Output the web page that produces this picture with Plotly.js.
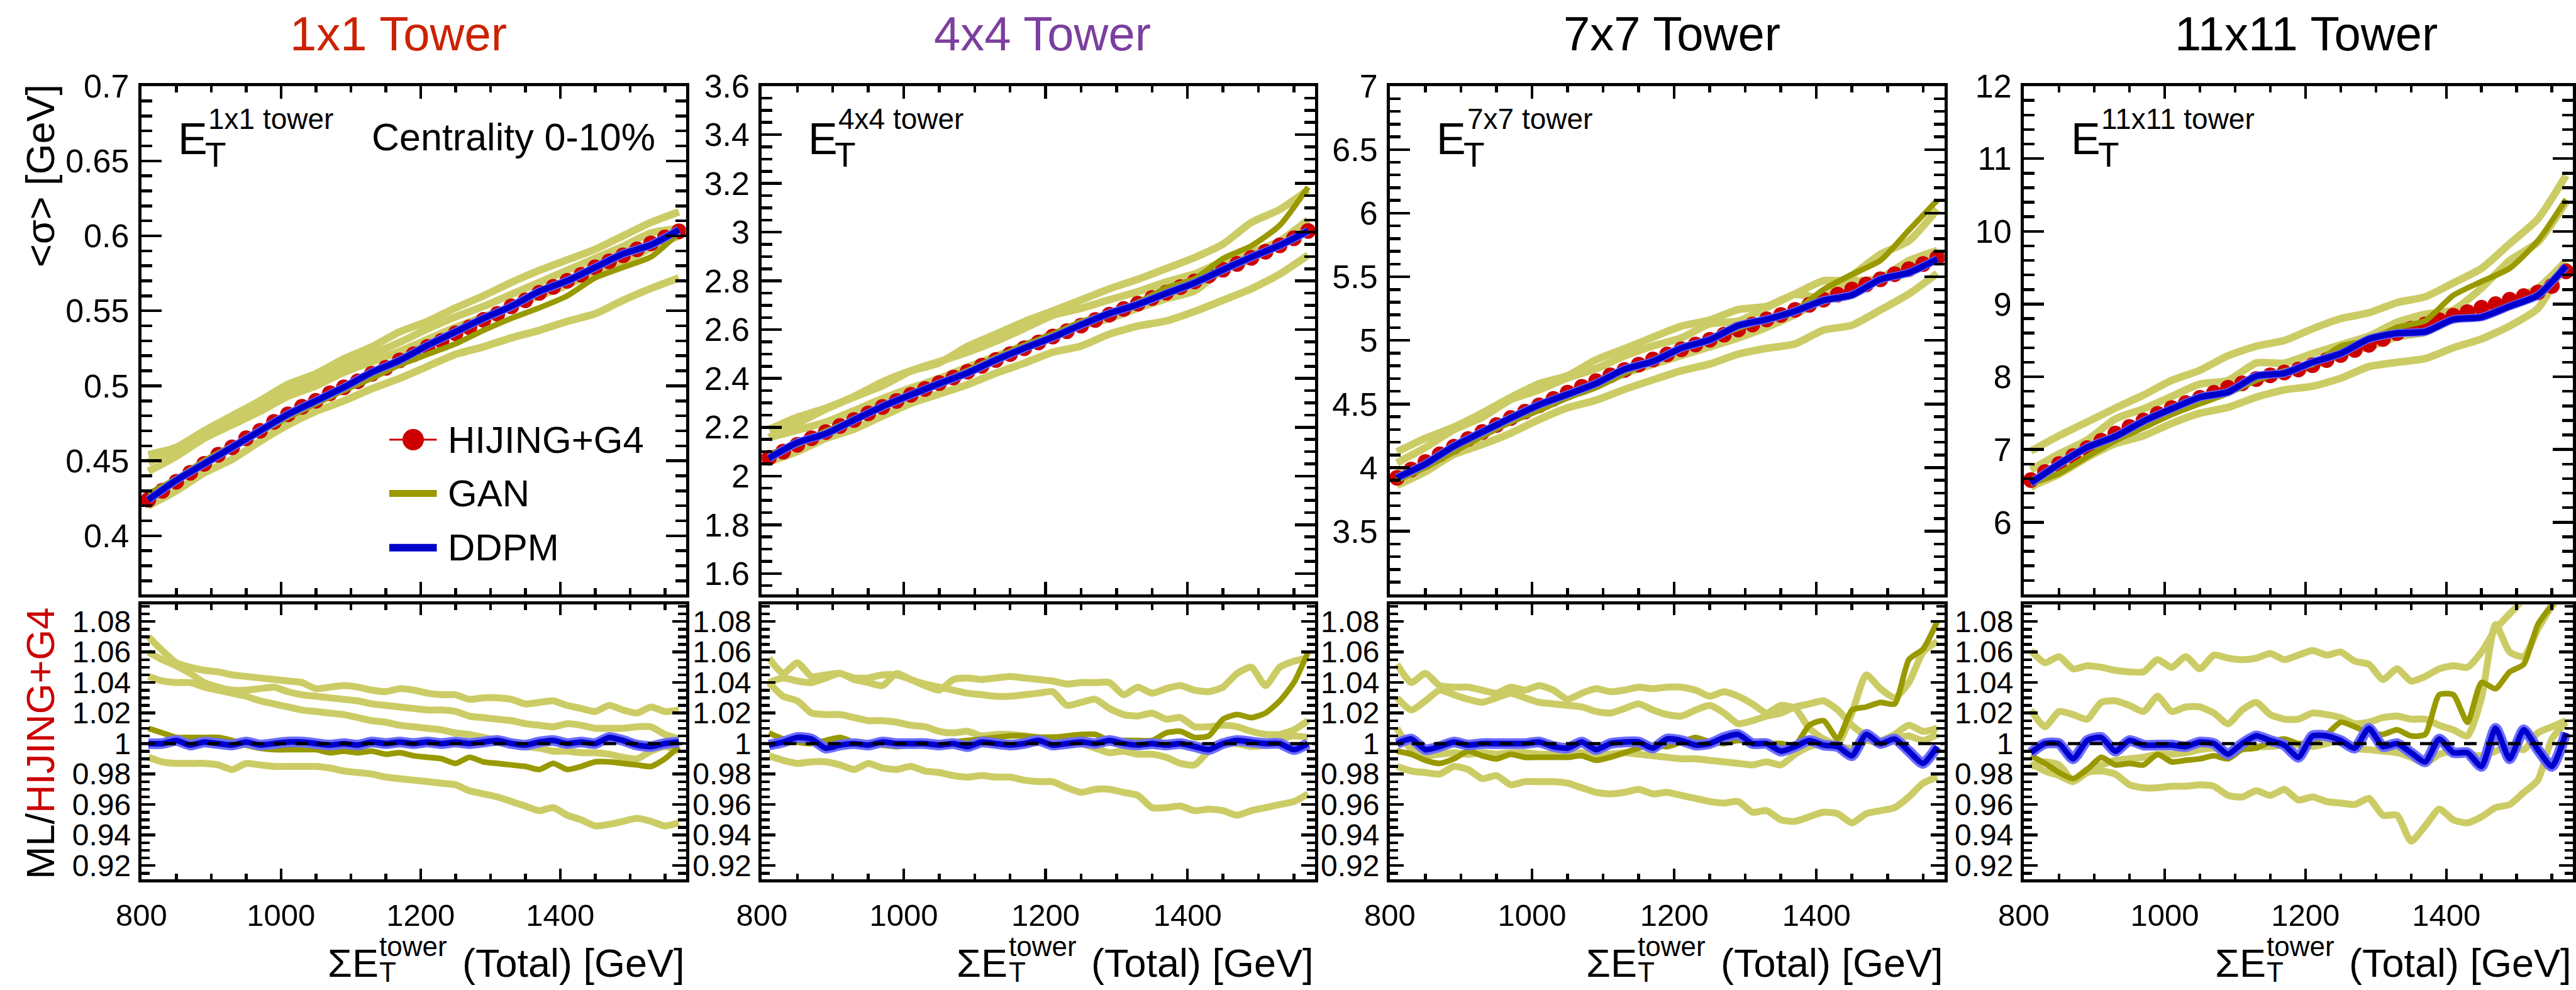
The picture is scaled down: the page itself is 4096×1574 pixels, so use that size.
<!DOCTYPE html>
<html><head><meta charset="utf-8">
<script src="https://cdn.plot.ly/plotly-3.0.1.min.js"></script>
<style>html,body{margin:0;padding:0;background:#fff;}#chart{width:4096px;height:1574px;}</style>
</head><body><div id="chart"></div>
<script>
// ---------------- DATA ----------------
const energyFine = [810,830,850,870,890,910,930,950,970,990,1010,1030,1050,1070,1090,1110,1130,1150,1170,1190,1210,1230,1250,1270,1290,1310,1330,1350,1370,1390,1410,1430,1450,1470,1490,1510,1530,1550,1570];
const energyCoarse = [810,850,890,930,970,1010,1050,1090,1130,1170,1210,1250,1290,1330,1370,1410,1450,1490,1530,1570];
const towerTitles = ['1x1 Tower','4x4 Tower','7x7 Tower','11x11 Tower'];
const towerTags = ['1x1 tower','4x4 tower','7x7 tower','11x11 tower'];
const legendLabels = ['HIJING+G4','GAN','DDPM'];
const sigmaRanges = [[0.361,0.70],[1.515,3.6],[3.005,7],[5.01,12]];
const ratioRange = [0.911,1.091];

// 1x1 tower
const hijing1x1 = [0.424,0.430,0.436,0.442,0.448,0.454,0.459,0.465,0.470,0.476,0.481,0.486,0.490,0.495,0.499,0.503,0.508,0.512,0.517,0.521,0.526,0.530,0.535,0.539,0.544,0.548,0.553,0.557,0.562,0.566,0.570,0.574,0.579,0.583,0.587,0.591,0.595,0.599,0.603];
const ganMain1x1 = [0.428,0.438,0.450,0.460,0.469,0.479,0.488,0.497,0.505,0.514,0.521,0.528,0.537,0.545,0.552,0.560,0.572,0.579,0.586,0.602];
const ganAltA1x1 = [0.454,0.459,0.470,0.480,0.490,0.501,0.508,0.518,0.526,0.536,0.543,0.552,0.560,0.569,0.577,0.584,0.591,0.600,0.609,0.616];
const ganAltB1x1 = [0.449,0.458,0.466,0.475,0.487,0.497,0.505,0.514,0.521,0.529,0.538,0.546,0.553,0.561,0.569,0.577,0.585,0.593,0.602,0.605];
const ganAltC1x1 = [0.443,0.453,0.465,0.474,0.483,0.493,0.500,0.509,0.516,0.523,0.531,0.539,0.546,0.553,0.560,0.567,0.576,0.582,0.592,0.600];
const ganAltD1x1 = [0.420,0.430,0.442,0.451,0.463,0.474,0.483,0.490,0.498,0.505,0.513,0.521,0.526,0.532,0.537,0.543,0.548,0.557,0.565,0.572];
const ddpm1x1 = [0.424,0.437,0.448,0.459,0.470,0.481,0.490,0.499,0.509,0.517,0.527,0.536,0.545,0.553,0.563,0.570,0.579,0.588,0.594,0.604];
const rGanMain1x1 = [1.010,1.007,1.004,1.004,1.004,1.004,1.002,0.999,0.997,0.996,0.996,0.996,0.996,0.994,0.995,0.994,0.995,0.993,0.994,0.992,0.991,0.990,0.987,0.991,0.988,0.987,0.986,0.985,0.983,0.987,0.983,0.985,0.988,0.988,0.987,0.986,0.985,0.990,0.998];
const rGanAltA1x1 = [1.070,1.061,1.053,1.050,1.048,1.047,1.045,1.044,1.043,1.042,1.041,1.040,1.036,1.037,1.038,1.037,1.035,1.034,1.036,1.035,1.033,1.032,1.032,1.029,1.030,1.030,1.029,1.026,1.027,1.028,1.025,1.023,1.021,1.025,1.022,1.020,1.024,1.021,1.022];
const rGanAltB1x1 = [1.060,1.055,1.051,1.046,1.040,1.037,1.035,1.035,1.036,1.037,1.034,1.032,1.031,1.030,1.029,1.028,1.026,1.025,1.024,1.023,1.022,1.022,1.021,1.018,1.017,1.016,1.015,1.013,1.012,1.011,1.013,1.012,1.010,1.010,1.010,1.011,1.011,1.006,1.003];
const rGanAltC1x1 = [1.044,1.041,1.040,1.040,1.037,1.035,1.033,1.031,1.028,1.026,1.024,1.022,1.021,1.020,1.019,1.017,1.015,1.014,1.012,1.011,1.010,1.009,1.007,1.006,1.004,1.002,1.000,0.998,0.997,0.995,0.995,0.994,0.994,0.993,0.991,0.990,0.995,0.998,0.995];
const rGanAltD1x1 = [0.991,0.988,0.987,0.987,0.987,0.986,0.983,0.987,0.986,0.985,0.985,0.985,0.985,0.984,0.982,0.981,0.980,0.978,0.977,0.976,0.975,0.974,0.973,0.969,0.967,0.965,0.962,0.959,0.956,0.958,0.953,0.950,0.946,0.947,0.949,0.951,0.949,0.946,0.948];
const rDdpm1x1 = [1.000,1.000,1.002,0.999,1.001,1.000,0.999,1.001,0.999,1.000,1.001,1.001,1.000,0.999,1.000,0.999,1.001,1.000,1.001,1.000,1.001,1.000,1.001,1.000,1.001,1.002,1.000,0.999,1.001,1.002,1.000,1.001,1.000,1.004,1.002,0.999,0.998,1.000,1.001];

// 4x4 tower
const hijing4x4 = [2.075,2.100,2.128,2.155,2.180,2.205,2.230,2.257,2.283,2.308,2.333,2.357,2.381,2.404,2.428,2.452,2.476,2.500,2.524,2.548,2.572,2.594,2.617,2.640,2.662,2.685,2.707,2.730,2.752,2.775,2.798,2.822,2.846,2.870,2.895,2.920,2.946,2.975,3.005];
const ganMain4x4 = [2.090,2.130,2.184,2.232,2.281,2.331,2.381,2.433,2.486,2.537,2.582,2.633,2.667,2.712,2.771,2.809,2.892,2.944,3.028,3.185];
const ganAltA4x4 = [2.191,2.241,2.278,2.326,2.386,2.431,2.464,2.532,2.582,2.633,2.677,2.722,2.768,2.807,2.851,2.896,2.951,3.040,3.093,3.173];
const ganAltB4x4 = [2.158,2.215,2.274,2.324,2.370,2.431,2.469,2.508,2.553,2.605,2.659,2.688,2.723,2.756,2.796,2.829,2.880,2.918,2.964,3.050];
const ganAltC4x4 = [2.158,2.188,2.221,2.268,2.317,2.361,2.400,2.447,2.491,2.537,2.582,2.617,2.646,2.688,2.727,2.759,2.846,2.889,2.955,3.017];
const ganAltD4x4 = [2.058,2.100,2.154,2.192,2.246,2.298,2.336,2.375,2.422,2.463,2.508,2.533,2.582,2.615,2.636,2.675,2.721,2.768,2.828,2.906];
const ddpm4x4 = [2.073,2.137,2.173,2.230,2.285,2.333,2.379,2.423,2.476,2.524,2.569,2.620,2.667,2.704,2.749,2.792,2.846,2.898,2.946,3.005];
const rGanMain4x4 = [1.007,1.003,1.001,1.000,1.002,1.004,1.001,1.000,0.999,0.998,0.999,0.999,1.000,1.001,1.002,1.003,1.004,1.005,1.005,1.004,1.004,1.005,1.006,1.006,1.002,1.002,1.002,1.002,1.007,1.008,1.004,1.005,1.016,1.019,1.017,1.020,1.028,1.040,1.060];
const rGanAltA4x4 = [1.056,1.046,1.053,1.044,1.045,1.046,1.043,1.043,1.045,1.045,1.042,1.038,1.035,1.042,1.043,1.042,1.043,1.044,1.043,1.042,1.041,1.039,1.040,1.040,1.040,1.032,1.037,1.033,1.036,1.038,1.035,1.034,1.037,1.046,1.050,1.038,1.050,1.054,1.056];
const rGanAltB4x4 = [1.040,1.043,1.041,1.040,1.043,1.046,1.042,1.040,1.038,1.046,1.042,1.039,1.037,1.035,1.033,1.032,1.031,1.031,1.032,1.033,1.034,1.025,1.027,1.029,1.023,1.019,1.018,1.020,1.016,1.017,1.011,1.011,1.012,1.011,1.008,1.006,1.006,1.009,1.015];
const rGanAltC4x4 = [1.040,1.031,1.028,1.020,1.019,1.019,1.017,1.015,1.015,1.014,1.012,1.011,1.008,1.007,1.008,1.005,1.006,1.006,1.005,1.004,1.004,1.003,1.000,0.997,0.994,0.995,0.993,0.993,0.991,0.987,0.986,0.995,1.000,1.000,0.998,0.999,1.003,1.005,1.004];
const rGanAltD4x4 = [0.992,0.989,0.987,0.988,0.988,0.986,0.983,0.987,0.984,0.983,0.985,0.982,0.981,0.979,0.978,0.979,0.978,0.978,0.976,0.975,0.975,0.971,0.968,0.970,0.970,0.968,0.966,0.958,0.958,0.959,0.956,0.957,0.956,0.953,0.956,0.958,0.960,0.962,0.967];
const rDdpm4x4 = [0.999,1.001,1.004,1.003,0.997,0.999,1.000,0.999,1.001,1.000,1.000,1.000,0.999,1.000,0.998,1.001,1.000,0.999,1.000,1.002,0.999,1.000,1.001,1.000,1.002,1.000,0.999,1.000,0.999,1.000,0.998,0.996,1.000,1.002,1.001,1.000,1.000,0.996,1.000];

// 7x7 tower
const hijing7x7 = [3.920,3.985,4.045,4.105,4.165,4.225,4.280,4.335,4.390,4.440,4.490,4.540,4.590,4.635,4.680,4.725,4.768,4.810,4.850,4.890,4.930,4.968,5.005,5.045,5.085,5.125,5.165,5.200,5.240,5.280,5.320,5.360,5.400,5.440,5.480,5.520,5.560,5.600,5.650];
const ganMain7x7 = [3.900,4.001,4.123,4.246,4.359,4.450,4.549,4.629,4.739,4.845,4.935,5.010,5.095,5.165,5.235,5.400,5.519,5.628,5.866,6.102];
const ganAltA7x7 = [4.124,4.231,4.319,4.430,4.552,4.661,4.723,4.848,4.935,5.025,5.112,5.160,5.243,5.268,5.361,5.336,5.508,5.677,5.782,6.029];
const ganAltB7x7 = [4.038,4.158,4.298,4.396,4.535,4.611,4.705,4.778,4.878,4.957,5.019,5.130,5.151,5.258,5.366,5.469,5.465,5.491,5.627,5.707];
const ganAltC7x7 = [3.959,4.013,4.140,4.254,4.364,4.459,4.558,4.647,4.739,4.811,4.881,4.950,5.019,5.103,5.203,5.320,5.384,5.480,5.588,5.684];
const ganAltD7x7 = [3.861,3.968,4.103,4.182,4.271,4.378,4.471,4.530,4.615,4.690,4.762,4.815,4.892,4.938,4.973,5.081,5.119,5.239,5.365,5.526];
const ddpm7x7 = [3.920,4.029,4.169,4.280,4.390,4.494,4.576,4.661,4.773,4.835,4.940,5.005,5.116,5.165,5.230,5.315,5.357,5.480,5.532,5.639];
const rGanMain7x7 = [0.995,0.993,0.989,0.987,0.990,0.995,0.992,0.990,0.993,0.991,0.991,0.991,0.991,0.992,0.989,0.991,0.994,0.997,0.999,0.998,1.001,1.004,1.001,1.000,1.002,1.001,1.000,1.000,0.999,1.012,1.015,1.003,1.022,1.024,1.027,1.026,1.055,1.062,1.080];
const rGanAltA7x7 = [1.052,1.040,1.046,1.038,1.037,1.037,1.035,1.033,1.037,1.035,1.038,1.035,1.029,1.033,1.036,1.034,1.035,1.037,1.036,1.037,1.037,1.035,1.031,1.034,1.031,1.026,1.020,1.025,1.023,1.010,1.003,1.000,1.020,1.045,1.036,1.030,1.040,1.060,1.067];
const rGanAltB7x7 = [1.030,1.022,1.028,1.035,1.032,1.029,1.027,1.030,1.033,1.030,1.027,1.026,1.025,1.024,1.021,1.020,1.023,1.026,1.022,1.019,1.018,1.022,1.025,1.020,1.013,1.015,1.018,1.020,1.024,1.026,1.028,1.022,1.012,1.005,1.002,1.006,1.012,1.008,1.010];
const rGanAltC7x7 = [1.010,0.996,0.992,0.993,0.994,0.993,0.994,0.993,0.994,0.994,0.993,0.993,0.993,0.994,0.993,0.993,0.994,0.993,0.992,0.991,0.990,0.990,0.989,0.988,0.987,0.986,0.988,0.986,0.993,0.998,1.000,0.998,0.997,1.002,1.000,1.003,1.005,1.002,1.006];
const rGanAltD7x7 = [0.985,0.982,0.981,0.980,0.985,0.983,0.977,0.979,0.973,0.975,0.975,0.975,0.974,0.971,0.968,0.967,0.968,0.970,0.967,0.968,0.966,0.964,0.962,0.961,0.962,0.955,0.956,0.950,0.949,0.952,0.955,0.954,0.948,0.954,0.956,0.958,0.965,0.974,0.978];
const rDdpm7x7 = [1.000,1.003,0.996,0.998,1.001,0.999,1.000,1.000,1.000,1.000,1.001,0.998,0.997,1.001,0.996,1.000,1.001,1.001,0.997,1.003,1.002,0.999,1.000,1.004,1.006,1.000,1.000,0.995,0.998,1.002,0.999,0.998,0.992,1.006,1.000,1.003,0.995,0.987,0.998];

// 11x11 tower
const hijing11x11 = [6.58,6.69,6.80,6.91,7.02,7.12,7.22,7.31,7.40,7.49,7.57,7.64,7.71,7.78,7.85,7.91,7.97,8.02,8.06,8.10,8.16,8.23,8.30,8.37,8.44,8.52,8.60,8.66,8.72,8.78,8.84,8.89,8.95,9.00,9.06,9.11,9.16,9.25,9.45];
const ganMain11x11 = [6.53,6.67,6.90,7.12,7.30,7.48,7.63,7.77,7.95,8.08,8.17,8.42,8.50,8.68,8.77,9.12,9.31,9.49,9.87,10.44];
const ganAltA11x11 = [6.98,7.19,7.38,7.57,7.75,7.95,8.09,8.29,8.42,8.50,8.66,8.80,8.88,9.02,9.10,9.29,9.49,9.83,10.17,10.77];
const ganAltB11x11 = [6.72,6.94,7.13,7.42,7.56,7.73,7.90,7.95,8.19,8.19,8.32,8.44,8.56,8.75,8.86,8.92,9.22,9.60,9.85,10.40];
const ganAltC11x11 = [6.48,6.70,6.90,7.14,7.33,7.52,7.68,7.81,7.95,8.05,8.14,8.32,8.41,8.55,8.61,8.80,8.88,9.05,9.22,9.59];
const ganAltD11x11 = [6.49,6.66,6.89,7.08,7.19,7.36,7.50,7.58,7.72,7.82,7.87,7.98,8.14,8.20,8.25,8.40,8.52,8.70,8.94,9.58];
const ddpm11x11 = [6.54,6.80,7.03,7.18,7.39,7.56,7.72,7.79,8.01,8.05,8.20,8.32,8.52,8.60,8.62,8.79,8.82,8.97,9.12,9.52];
const rGanMain11x11 = [0.992,0.987,0.981,0.977,0.983,0.991,0.986,0.987,0.986,0.993,0.988,0.989,0.990,0.992,0.990,0.996,0.997,1.001,1.003,1.000,1.001,1.006,1.014,1.011,1.007,1.006,1.009,1.005,1.006,1.032,1.032,1.014,1.040,1.036,1.047,1.052,1.078,1.091,1.105];
const rGanAltA11x11 = [1.061,1.053,1.057,1.049,1.051,1.050,1.048,1.047,1.047,1.055,1.050,1.057,1.049,1.058,1.056,1.055,1.056,1.059,1.055,1.058,1.061,1.058,1.060,1.054,1.052,1.042,1.049,1.041,1.044,1.049,1.051,1.050,1.060,1.075,1.085,1.095,1.110,1.130,1.140];
const rGanAltB11x11 = [1.022,1.011,1.021,1.019,1.016,1.027,1.028,1.025,1.021,1.031,1.021,1.024,1.024,1.020,1.013,1.022,1.027,1.019,1.016,1.016,1.020,1.019,1.017,1.013,1.014,1.017,1.018,1.016,1.016,1.012,1.009,1.005,1.030,1.078,1.060,1.057,1.075,1.090,1.100];
const rGanAltC11x11 = [0.985,0.988,0.986,0.976,0.983,0.986,0.989,0.990,0.991,0.993,0.993,0.994,0.996,0.997,0.995,0.997,0.998,0.998,0.999,0.999,0.998,1.000,1.002,0.997,0.996,0.995,0.994,0.991,0.987,0.993,0.995,0.993,0.992,0.995,0.999,0.996,1.007,1.011,1.015];
const rGanAltD11x11 = [0.987,0.982,0.979,0.975,0.981,0.982,0.980,0.973,0.971,0.971,0.972,0.972,0.973,0.972,0.966,0.965,0.969,0.966,0.970,0.963,0.965,0.962,0.961,0.960,0.964,0.953,0.953,0.936,0.946,0.957,0.950,0.948,0.952,0.958,0.960,0.968,0.976,1.003,1.014];
const rDdpm11x11 = [0.994,1.000,1.000,0.990,1.002,1.004,0.995,1.002,0.999,0.999,0.999,0.998,1.001,1.000,0.993,1.000,1.005,1.002,0.999,0.991,1.005,1.005,1.002,0.997,1.010,0.998,1.000,0.994,0.988,1.003,0.994,0.994,0.985,1.010,0.990,1.009,0.996,0.985,1.007];

const unityRatio = 1;

// ---------------- STYLE / GEOMETRY ----------------
const W = 4096, H = 1574;
const FONT = 'Liberation Sans, Arial, Helvetica, sans-serif';
const C_RED = '#cc0000', C_GAN = '#999900', C_GAN_L = '#cccc66', C_BLUE = '#0000cc', C_BLUE_L = '#6c6cff';
const titleColors = ['#cc2200','#7b3f9e','#000000','#000000'];
const xDomains = [[0.05488,0.26626],[0.29575,0.51055],[0.53955,0.75481],[0.78564,0.99885]];
const topDomain = [0.39975,0.91321], ratioDomain = [0.11182,0.38914];
const yDticks = [[0.05,0.01],[0.2,0.05],[0.5,0.1],[1,0.2]];

const panels = [
  {hij:hijing1x1, gm:ganMain1x1, ga:[ganAltA1x1,ganAltB1x1,ganAltC1x1,ganAltD1x1], dd:ddpm1x1,
   rgm:rGanMain1x1, rga:[rGanAltA1x1,rGanAltB1x1,rGanAltC1x1,rGanAltD1x1], rdd:rDdpm1x1},
  {hij:hijing4x4, gm:ganMain4x4, ga:[ganAltA4x4,ganAltB4x4,ganAltC4x4,ganAltD4x4], dd:ddpm4x4,
   rgm:rGanMain4x4, rga:[rGanAltA4x4,rGanAltB4x4,rGanAltC4x4,rGanAltD4x4], rdd:rDdpm4x4},
  {hij:hijing7x7, gm:ganMain7x7, ga:[ganAltA7x7,ganAltB7x7,ganAltC7x7,ganAltD7x7], dd:ddpm7x7,
   rgm:rGanMain7x7, rga:[rGanAltA7x7,rGanAltB7x7,rGanAltC7x7,rGanAltD7x7], rdd:rDdpm7x7},
  {hij:hijing11x11, gm:ganMain11x11, ga:[ganAltA11x11,ganAltB11x11,ganAltC11x11,ganAltD11x11], dd:ddpm11x11,
   rgm:rGanMain11x11, rga:[rGanAltA11x11,rGanAltB11x11,rGanAltC11x11,rGanAltD11x11], rdd:rDdpm11x11}
];

const traces = [];
const layout = {width:W, height:H, margin:{l:0,r:0,t:0,b:0}, paper_bgcolor:'#fff', plot_bgcolor:'rgba(0,0,0,0)',
  showlegend:false, font:{family:FONT, color:'#000'}, annotations:[], shapes:[]};

function line(x, y, xa, ya, color, width) {
  return {x:x, y:y, xaxis:xa, yaxis:ya, mode:'lines', type:'scatter', hoverinfo:'skip',
          line:{color:color, width:width, shape:'spline', smoothing:0.6}};
}

panels.forEach((p, i) => {
  const xt = 'x'+(i+1), yt = 'y'+(i+1), xr = 'x'+(i+5), yr = 'y'+(i+5);
  // top panel
  p.ga.forEach(s => traces.push(line(energyCoarse, s, xt, yt, C_GAN_L, 12)));
  traces.push({x:energyFine, y:p.hij, xaxis:xt, yaxis:yt, type:'scatter', mode:'lines+markers', hoverinfo:'skip',
               line:{color:C_RED, width:3}, marker:{size:25, color:C_RED}});
  traces.push(line(energyCoarse, p.gm, xt, yt, C_GAN, 9));
  traces.push(line(energyCoarse, p.dd, xt, yt, C_BLUE_L, 13));
  traces.push(line(energyCoarse, p.dd, xt, yt, C_BLUE, 10));
  // ratio panel
  p.rga.forEach(s => traces.push(line(energyFine, s, xr, yr, C_GAN_L, 11)));
  traces.push(line(energyFine, p.rgm, xr, yr, C_GAN, 9));
  traces.push(line(energyFine, p.rdd, xr, yr, C_BLUE_L, 17));
  traces.push(line(energyFine, p.rdd, xr, yr, C_BLUE, 9));

  const common = {showline:true, linecolor:'#000', linewidth:5, mirror:'allticks', ticks:'inside',
                  tickcolor:'#000', tickwidth:4.5, showgrid:false, zeroline:false, fixedrange:true};
  layout['xaxis'+(i+1)] = Object.assign({}, common, {domain:xDomains[i], range:[800,1580], anchor:yt,
     tick0:800, dtick:200, ticklen:20, showticklabels:false,
     minor:{ticks:'inside', dtick:50, ticklen:10, tickwidth:4.5, tickcolor:'#000', showgrid:false}});
  layout['yaxis'+(i+1)] = Object.assign({}, common, {domain:topDomain, range:sigmaRanges[i], anchor:xt,
     tick0:0, dtick:yDticks[i][0], ticklen:32, tickfont:{size:52, family:FONT}, ticklabelstandoff:4,
     minor:{ticks:'inside', dtick:yDticks[i][1], ticklen:17, tickwidth:4.5, tickcolor:'#000', showgrid:false}});
  layout['xaxis'+(i+5)] = Object.assign({}, common, {domain:xDomains[i], range:[800,1580], anchor:yr,
     tick0:800, dtick:200, ticklen:17, tickfont:{size:49, family:FONT}, ticklabelstandoff:10,
     minor:{ticks:'inside', dtick:50, ticklen:9, tickwidth:4.5, tickcolor:'#000', showgrid:false}});
  layout['yaxis'+(i+5)] = Object.assign({}, common, {domain:ratioDomain, range:ratioRange, anchor:xr,
     tick0:0, dtick:0.02, ticklen:22, tickfont:{size:48, family:FONT}, ticklabelstandoff:2,
     minor:{ticks:'inside', dtick:0.005, ticklen:13, tickwidth:4.5, tickcolor:'#000', showgrid:false}});

  // unity reference line in ratio panel
  layout.shapes.push({type:'line', xref:xr+' domain', yref:yr, x0:0, x1:1, y0:unityRatio, y1:unityRatio,
     line:{color:'#000', width:5, dash:'20px,15px'}, layer:'above'});
});

// ---------------- TEXT ----------------
function ann(text, xw, yw, size, opts) {
  return Object.assign({text:text, x:xw/W, y:1-yw/H, xref:'paper', yref:'paper', showarrow:false,
    xanchor:'center', yanchor:'middle', font:{family:FONT, size:size, color:'#000'}}, opts||{});
}
const A = layout.annotations;
const titleX = [633.6, 1657.3, 2658.8, 3666.8];
const eLeft = [281, 1282.7, 2282.2, 3291.1];
const panelRight = [1090.6, 2091.2, 3091.7, 4091.3];
for (let i = 0; i < 4; i++) {
  A.push(ann(towerTitles[i], titleX[i], 53, 76, {font:{family:FONT, size:76, color:titleColors[i]}}));
  A.push(ann('E', eLeft[i], 221, 70, {xanchor:'left'}));
  A.push(ann('T', eLeft[i]+42.7, 246, 55, {xanchor:'left'}));
  A.push(ann(towerTags[i], eLeft[i]+48.3, 189, 46, {xanchor:'left'}));
  // x axis titles
  A.push(ann('(Total) [GeV]', panelRight[i], 1531, 63, {xanchor:'right'}));
  A.push(ann('\u03A3E', panelRight[i]-571.7, 1531, 63, {xanchor:'left'}));
  A.push(ann('tower', panelRight[i]-489.6, 1504, 44, {xanchor:'left'}));
  A.push(ann('T', panelRight[i]-489.6, 1545, 44, {xanchor:'left'}));
}
A.push(ann('Centrality 0-10%', 1043.8, 218, 61, {xanchor:'right'}));
A.push(ann('&lt;\u03C3&gt; [GeV]', 64, 280, 63, {textangle:-90}));
A.push(ann('ML/<span style="color:#cc0000">HIJING+G4</span>', 64, 1182, 63, {textangle:-90}));

// legend
const legRows = [699, 784.4, 870.7];
const legColors = [C_RED, C_GAN, C_BLUE];
const legWidths = [3, 11, 12];
legRows.forEach((yw, k) => {
  layout.shapes.push({type:'line', xref:'paper', yref:'paper', x0:619/W, x1:694.5/W, y0:1-yw/H, y1:1-yw/H,
     line:{color:legColors[k], width:legWidths[k]}});
  A.push(ann(legendLabels[k], 709.6, yw, 60, {xanchor:'left'}));
});
layout.shapes.push({type:'circle', xref:'paper', yref:'paper', xsizemode:'pixel', ysizemode:'pixel',
   xanchor:657/W, yanchor:1-legRows[0]/H, x0:-17, x1:17, y0:-17, y1:17, fillcolor:C_RED, line:{width:0}});

Plotly.newPlot('chart', traces, layout, {staticPlot:true, displayModeBar:false});
</script>
</body></html>
